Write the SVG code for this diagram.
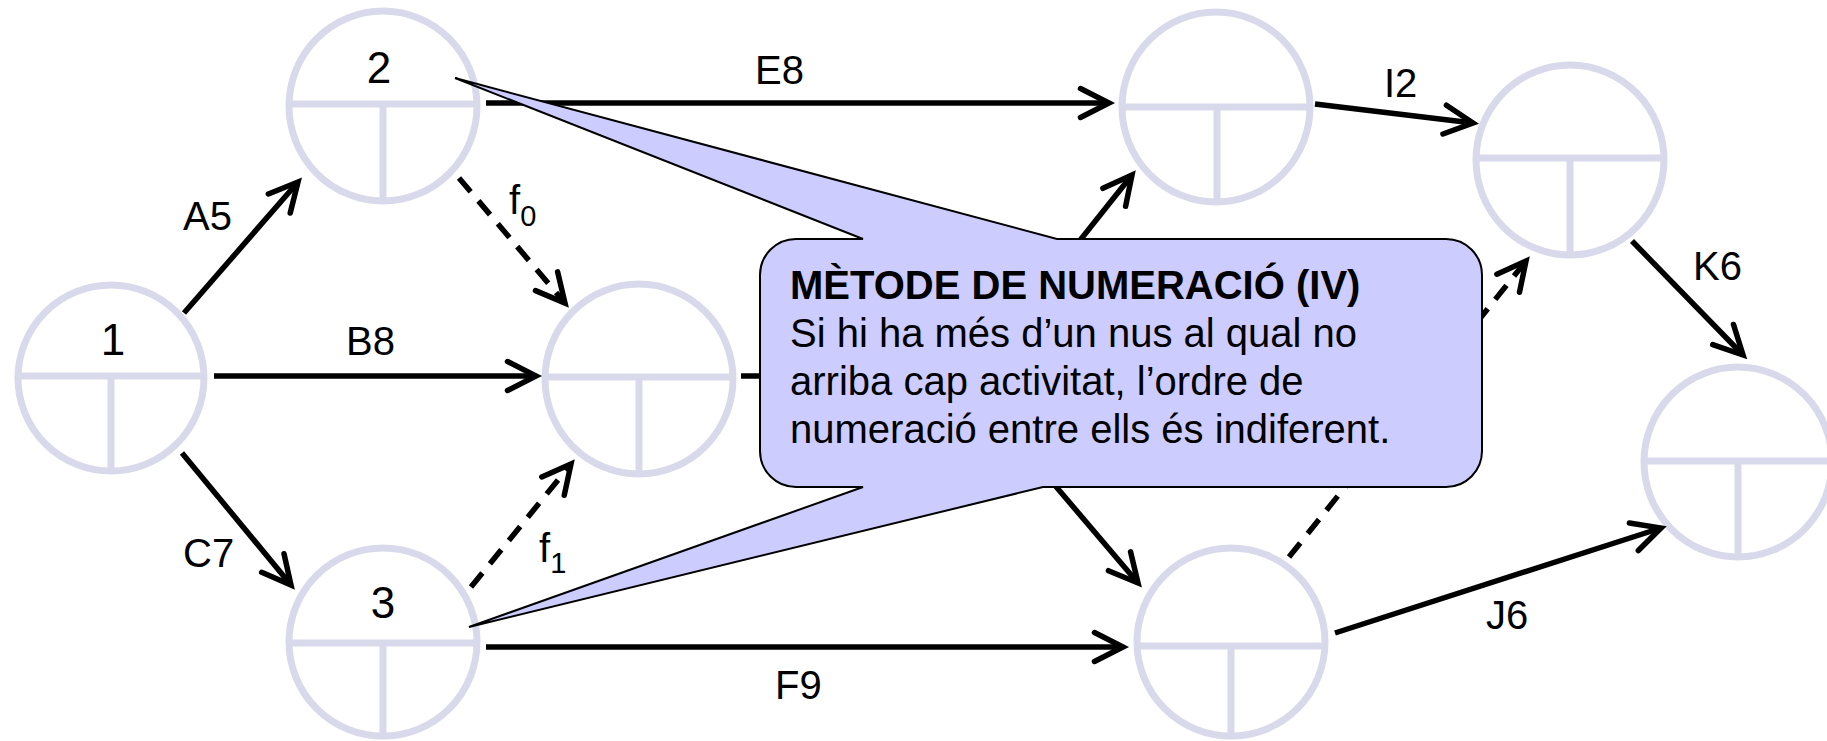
<svg xmlns="http://www.w3.org/2000/svg" width="1827" height="741" viewBox="0 0 1827 741">
<style>
.ring{fill:none;stroke:#D9D9EC;stroke-width:7}
.div{stroke:#D9D9EC;stroke-width:7;fill:none}
.num{font-family:"Liberation Sans",Arial,sans-serif;font-size:44px;fill:#000;text-anchor:middle}
.lbl{font-family:"Liberation Sans",Arial,sans-serif;font-size:40px;fill:#000}
.sub{font-size:29px}
.arr{stroke:#000;stroke-width:5.5;fill:none;marker-end:url(#ah)}
.dash{stroke-dasharray:18 12}
.co{font-family:"Liberation Sans",Arial,sans-serif;font-size:40px;fill:#000}
</style>
<defs>
<marker id="ah" markerUnits="userSpaceOnUse" viewBox="-40 -20 50 40" refX="0" refY="0" markerWidth="50" markerHeight="40" orient="auto" overflow="visible">
<path d="M-28.5,-14.5 L0,0 L-28.5,14.5" fill="none" stroke="#000" stroke-width="5.5" stroke-linecap="round" stroke-linejoin="miter"/>
</marker>
</defs>
<rect width="1827" height="741" fill="#fff"/>

<g id="node1">
<ellipse class="ring" cx="111" cy="378" rx="93" ry="93"/>
<path class="div" d="M18,376 H204 M111,376 V471"/>
<text class="num" x="113" y="355">1</text>
</g>
<g id="node2">
<ellipse class="ring" cx="383" cy="106" rx="94" ry="95"/>
<path class="div" d="M289,104 H477 M383,104 V201"/>
<text class="num" x="379" y="83">2</text>
</g>
<g id="node3">
<ellipse class="ring" cx="383" cy="642" rx="94" ry="94"/>
<path class="div" d="M289,643 H477 M383,643 V736"/>
<text class="num" x="383" y="618">3</text>
</g>
<g id="node4">
<ellipse class="ring" cx="639" cy="379" rx="94" ry="95"/>
<path class="div" d="M545,377 H733 M639,377 V474"/>
</g>
<g id="node5">
<ellipse class="ring" cx="1216" cy="107" rx="94" ry="95"/>
<path class="div" d="M1122,107 H1310 M1217,107 V202"/>
</g>
<g id="node6">
<ellipse class="ring" cx="1231" cy="642" rx="94" ry="94"/>
<path class="div" d="M1137,646 H1325 M1231,646 V736"/>
</g>
<g id="node7">
<ellipse class="ring" cx="1570" cy="160" rx="94" ry="95"/>
<path class="div" d="M1476,158 H1664 M1570,158 V255"/>
</g>
<g id="node8">
<ellipse class="ring" cx="1738" cy="462" rx="94" ry="95"/>
<path class="div" d="M1644,461 H1832 M1738,461 V557"/>
</g>

<g id="connectors">
<line class="arr" x1="184" y1="313" x2="298" y2="182"/>
<line class="arr" x1="214" y1="376" x2="536" y2="376"/>
<line class="arr" x1="182" y1="453" x2="291" y2="585"/>
<line class="arr dash" x1="459" y1="178" x2="565" y2="303"/>
<line class="arr dash" x1="471" y1="587" x2="571" y2="464"/>
<line class="arr" x1="486" y1="103" x2="1109" y2="103"/>
<line class="arr" x1="486" y1="647" x2="1123" y2="647"/>
<line class="arr" x1="741" y1="376" x2="900" y2="376" style="marker-end:none"/>
<line class="arr" x1="1050" y1="278" x2="1132" y2="175"/>
<line class="arr" x1="1030" y1="456" x2="1138" y2="583"/>
<line class="arr dash" x1="1289" y1="557" x2="1526" y2="261"/>
<line class="arr" x1="1315" y1="104" x2="1473" y2="123"/>
<line class="arr" x1="1632" y1="241" x2="1743" y2="355"/>
<line class="arr" x1="1335" y1="633" x2="1661" y2="528"/>
<text class="lbl" x="183" y="230">A5</text>
<text class="lbl" x="346" y="355">B8</text>
<text class="lbl" x="183" y="567">C7</text>
<text class="lbl" x="755" y="84">E8</text>
<text class="lbl" x="775" y="699">F9</text>
<text class="lbl" x="1384" y="97">I2</text>
<text class="lbl" x="1486" y="629">J6</text>
<text class="lbl" x="1693" y="280">K6</text>
<text class="lbl" x="509" y="214">f<tspan class="sub" dy="12">0</tspan></text>
<text class="lbl" x="539" y="562">f<tspan class="sub" dy="11">1</tspan></text>
</g>

<g id="callout">
<path d="M796,239 L863,239 L455,78 L1057,239 L1446,239 A36,36 0 0 1 1482,275 L1482,451 A36,36 0 0 1 1446,487 L1043,487 L469,627 L863,487 L796,487 A36,36 0 0 1 760,451 L760,275 A36,36 0 0 1 796,239 Z" fill="#CCCCFF" stroke="#000" stroke-width="2" stroke-linejoin="miter"/>
<text class="co" x="790" y="299" font-weight="bold">MÈTODE DE NUMERACIÓ (IV)</text>
<text class="co" x="790" y="347">Si hi ha més d’un nus al qual no</text>
<text class="co" x="790" y="395">arriba cap activitat, l’ordre de</text>
<text class="co" x="790" y="443">numeració entre ells és indiferent.</text>
</g>
</svg>
